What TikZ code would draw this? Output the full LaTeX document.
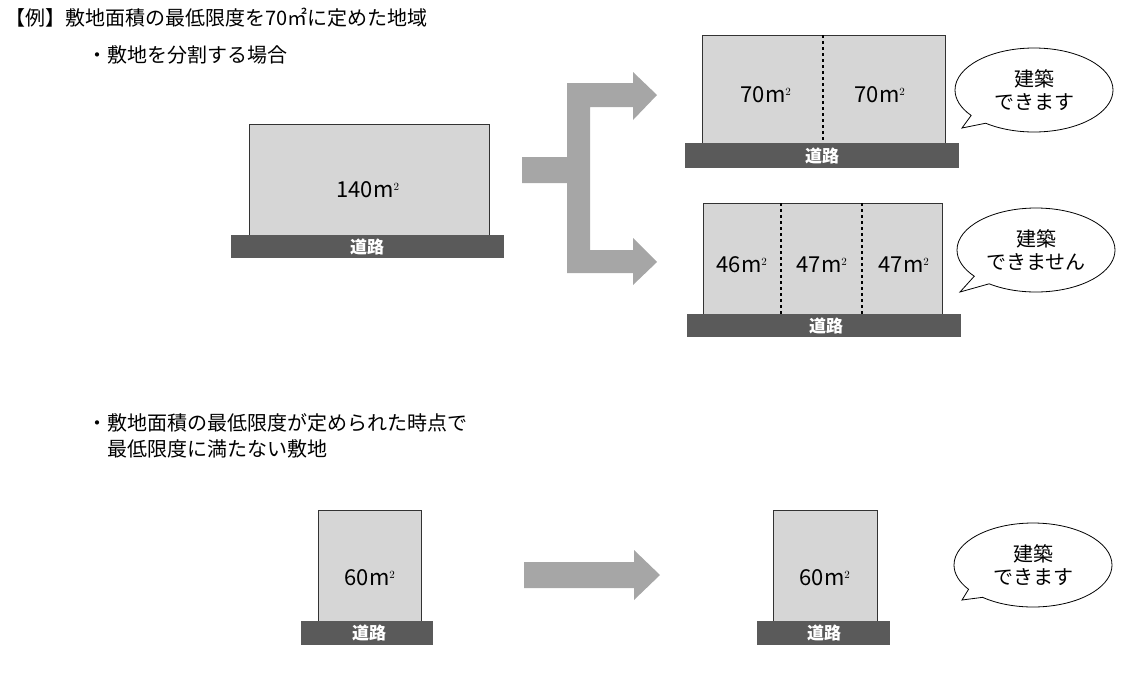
\documentclass[tikz,border=0pt]{standalone}
\usepackage{fontspec}
\setmainfont{Noto Sans CJK JP}
\usetikzlibrary{shapes.callouts}
\definecolor{lotgray}{HTML}{D6D6D6}
\definecolor{roadgray}{HTML}{5A5A5A}
\definecolor{arrowgray}{HTML}{A6A6A6}
\tikzset{lot/.style={draw=black!80, fill=lotgray, line width=1pt},
  road/.style={fill=roadgray},
  roadtxt/.style={text=white, font=\fontsize{17}{17}\selectfont\bfseries},
  area/.style={font=\fontsize{22}{22}\selectfont},
  split/.style={dashed, line width=1.2pt},
  bubble/.style={ellipse callout, draw=black, line width=0.8pt, fill=white, align=center,
    minimum width=158pt, minimum height=84pt, inner sep=0pt, font=\fontsize{20}{23}\selectfont},
  heading/.style={anchor=west, font=\fontsize{20}{26}\selectfont}}
\newcommand{\sqm}[1]{#1m$^{\scriptscriptstyle 2}$}
\begin{document}
\begin{tikzpicture}[x=1pt,y=-1pt]
\useasboundingbox (0,0) rectangle (1140,675);
% headings
\node[heading] (h1) at (2,18) {【例】敷地面積の最低限度を70㎡に定めた地域};
\node[heading] (h2) at (84,55) {・敷地を分割する場合};
\node[heading, align=left] (h3) at (84,436) {・敷地面積の最低限度が定められた時点で\\\hspace{20pt}最低限度に満たない敷地};
% original lot
\draw[lot] (249,124) rectangle (489,235);
\fill[road] (231,235) rectangle (504,258);
\node[roadtxt] (r0) at (367,247) {道路};
\node[area] (a0) at (368,190) {\sqm{140}};
% branching arrow
\fill[arrowgray] (522,157) -- (567,157) -- (567,83) -- (633,83) -- (633,72) -- (657,95)
  -- (633,120) -- (633,107) -- (590,107) -- (590,250) -- (633,250) -- (633,238)
  -- (657,262) -- (633,285) -- (633,273) -- (567,273) -- (567,183) -- (522,183) -- cycle;
% split into two
\draw[lot] (702,35) rectangle (945,143);
\draw[split] (823,35) -- (823,143);
\fill[road] (685,143) rectangle (959,168);
\node[roadtxt] (r1) at (822,156) {道路};
\node[area] (a1) at (766,95) {\sqm{70}};
\node[area] (a2) at (880,95) {\sqm{70}};
\node[bubble, callout absolute pointer={(962,128)}] (b1) at (1034,90) {建築\\できます};
% split into three
\draw[lot] (703,203) rectangle (942,314);
\draw[split] (781,203) -- (781,314);
\draw[split] (862,203) -- (862,314);
\fill[road] (687,314) rectangle (961,337);
\node[roadtxt] (r2) at (826,326) {道路};
\node[area] (a3) at (742,265) {\sqm{46}};
\node[area] (a4) at (822,265) {\sqm{47}};
\node[area] (a5) at (904,265) {\sqm{47}};
\node[bubble, callout absolute pointer={(960,292)}] (b2) at (1036,250) {建築\\できません};
% existing small lot
\draw[lot] (318,510) rectangle (421,621);
\fill[road] (301,621) rectangle (433,645);
\node[roadtxt] (r3) at (369,633) {道路};
\node[area] (a6) at (370,578) {\sqm{60}};
\fill[arrowgray] (524,562) -- (634,562) -- (634,550) -- (660,575) -- (634,600) -- (634,588) -- (524,588) -- cycle;
\draw[lot] (773,510) rectangle (877,621);
\fill[road] (757,621) rectangle (890,645);
\node[roadtxt] (r4) at (824,633) {道路};
\node[area] (a7) at (825,578) {\sqm{60}};
\node[bubble, callout absolute pointer={(962,600)}] (b3) at (1033,565) {建築\\できます};
\end{tikzpicture}
\end{document}
